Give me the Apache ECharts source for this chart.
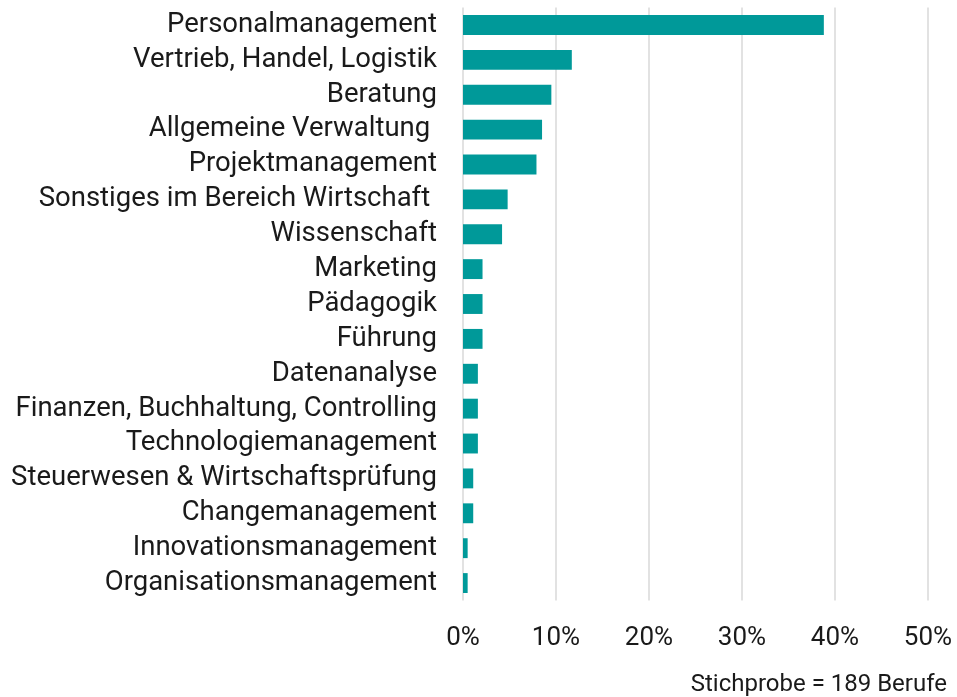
<!DOCTYPE html>
<html>
<head>
<meta charset="utf-8">
<script src="https://cdn.jsdelivr.net/npm/echarts@6/dist/echarts.min.js"></script>
<style>
html,body{margin:0;padding:0;background:#fff;}
#chart{width:957px;height:697px;}
</style>
</head>
<body>
<div id="chart"></div>
<script>
const categories = [
  "Personalmanagement",
  "Vertrieb, Handel, Logistik",
  "Beratung",
  "Allgemeine Verwaltung ",
  "Projektmanagement",
  "Sonstiges im Bereich Wirtschaft ",
  "Wissenschaft",
  "Marketing",
  "Pädagogik",
  "Führung",
  "Datenanalyse",
  "Finanzen, Buchhaltung, Controlling",
  "Technologiemanagement",
  "Steuerwesen & Wirtschaftsprüfung",
  "Changemanagement",
  "Innovationsmanagement",
  "Organisationsmanagement"
];
const shares = [38.8, 11.7, 9.5, 8.5, 7.9, 4.8, 4.2, 2.1, 2.1, 2.1, 1.6, 1.6, 1.6, 1.1, 1.1, 0.5, 0.5];
const xTicks = [0, 10, 20, 30, 40, 50];
const note = "Stichprobe = 189 Berufe";

const chart = echarts.init(document.getElementById('chart'));
const font = 'Roboto, "Noto Sans", sans-serif';
chart.setOption({
  animation: false,
  grid: {left: 463, right: 29, top: 7.5, bottom: 96.5, containLabel: false},
  xAxis: {
    type: 'value',
    min: xTicks[0], max: xTicks[xTicks.length - 1], interval: 10,
    axisLine: {show: false}, axisTick: {show: false},
    splitLine: {lineStyle: {color: '#d9d9d9', width: 1.5}},
    axisLabel: {formatter: v => v + '%', color: '#1a1a1a', fontSize: 26, fontFamily: font, margin: 25}
  },
  yAxis: {
    type: 'category', data: categories, inverse: true,
    axisLine: {show: false}, axisTick: {show: false},
    axisLabel: {interval: 0, color: '#1a1a1a', fontSize: 27.5, fontFamily: font, margin: 26}
  },
  series: [{
    type: 'bar', data: shares, barWidth: '57%',
    itemStyle: {color: '#009999'}
  }],
  graphic: [{
    type: 'text', right: 10, top: 673,
    style: {text: note, fontSize: 24, fontFamily: font, fill: '#1a1a1a'}
  }]
});
</script>
</body>
</html>
